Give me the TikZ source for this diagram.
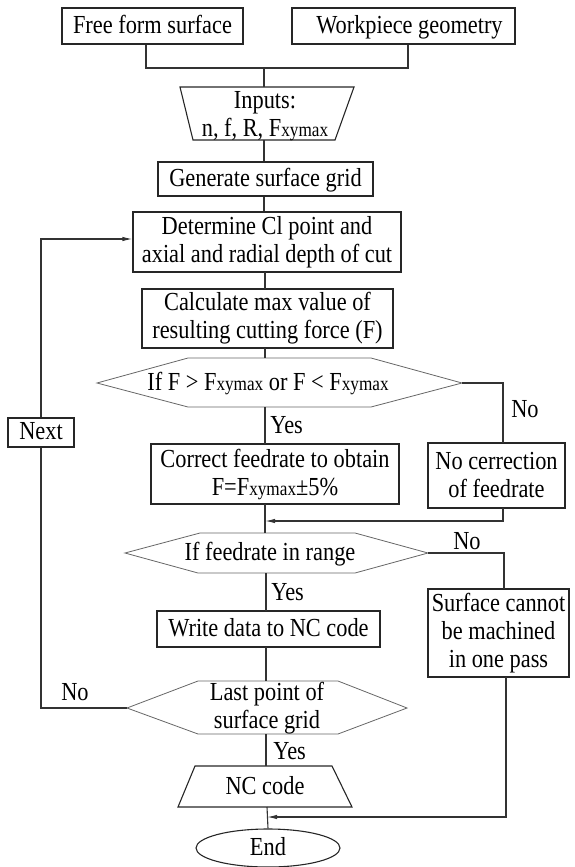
\documentclass[tikz,border=0pt]{standalone}
\usepackage{fontspec}
\setmainfont{Liberation Serif}[FakeStretch=0.86]
\usetikzlibrary{arrows.meta,shapes.geometric}

\tikzset{
  proc/.style={draw=black!85, line width=0.55pt, inner sep=0pt, align=center},
  dims/.style 2 args={minimum width=#1*0.5pt, minimum height=#2*0.5pt},
  one/.style={text height=9.6pt, text depth=2.4pt},
  txt/.style={inner sep=0pt, align=center},
  link/.style={draw=black!80, line width=0.55pt},
  arr/.style={link, -{Latex[length=5pt,width=2.2pt]}},
  hexa/.style={draw=black!60, line width=0.4pt},
  lbl/.style={inner sep=0pt},
}
\newcommand{\Fxy}{F{\fontsize{10}{11}\selectfont xymax}}

\begin{document}
\begin{tikzpicture}[x=0.5pt, y=-0.5pt, font=\fontsize{13}{14}\selectfont]
  \useasboundingbox (0,0) rectangle (574,867);

  % sources
  \node[proc, one, dims={181}{36}] (ffs) at (152.5,26) {Free form surface};
  \node[proc, one, dims={223}{36}] (wpg) at (403.5,26) {\hspace*{6pt}Workpiece geometry};
  \coordinate (jl) at (146,68);
  \coordinate (jr) at (408,68);
  \coordinate (jm) at (264,68);

  % inputs
  \draw[proc] (180,87) -- (354,87) -- (335,140) -- (193,140) -- cycle;
  \coordinate (inT) at (264,87);
  \coordinate (inB) at (264,140);
  \node[txt] (inp) at (265,116) {Inputs:\\n, f, R, \Fxy};

  % main column
  \node[proc, one, dims={215}{34}] (gen) at (265.5,179) {Generate surface grid};
  \node[proc, dims={268}{60}] (det) at (267,242) {Determine Cl point and\\axial and radial depth of cut};
  \node[proc, dims={251}{59}] (calc) at (267.5,318.5) {Calculate max value of\\resulting cutting force (F)};

  \draw[hexa] (97,383) -- (188,358) -- (371,358) -- (462,383) coordinate (h1R)
    -- (371,407) -- (188,407) -- cycle;
  \node[txt, one] (h1) at (268,383) {If F > \Fxy{} or F < \Fxy};

  \node[proc, dims={248}{60}] (corr) at (275,474) {Correct feedrate to obtain\\F=\Fxy±5\%};
  \node[proc, dims={137}{65}] (nocorr) at (496.5,475.5) {No cerrection\\of feedrate};
  \node[proc, one, dims={66}{29}, fill=white] (nxt) at (41,432.5) {Next};

  \draw[hexa] (125,553) -- (200,533) -- (355,533) -- (428,553) coordinate (h2R)
    -- (355,573) -- (198,573) -- cycle;
  \node[txt, one] (h2) at (270,553) {If feedrate in range};

  \node[proc, one, dims={223}{36}] (wr) at (268.5,629) {Write data to NC code};
  \node[proc, dims={141}{88}] (surf) at (498.5,633) {Surface cannot\\be machined\\in one pass};

  \draw[hexa] (127,708) coordinate (h3L) -- (198,681) -- (338,681) -- (407,708)
    -- (338,734) -- (198,734) -- cycle;
  \node[txt] (h3) at (267,708) {Last point of\\surface grid};

  \draw[proc] (195,766) -- (332,766) -- (352,807) -- (178,807) -- cycle;
  \node[txt, one] (nc) at (265,787) {NC code};
  \node[proc, one, ellipse, dims={144}{38}] (end) at (268,848) {End};

  % connectors
  \draw[link] (jl |- ffs.south) -- (jl) -- (jr) -- (jr |- wpg.south);
  \draw[link] (jm) -- (inT);
  \draw[link] (inB) -- (inB |- gen.north);
  \draw[link] (gen.south -| inB) -- (det.north -| inB);
  \draw[link] (265,272) -- (265,289);
  \draw[link] (265,348) -- (265,358);
  \draw[link] (265,407) -- (265,444);
  \node[lbl, anchor=west] (y1) at (270,425) {Yes};
  \draw[link] (h1R) -- (503,383) -- (503,443);
  \node[lbl] (n1) at (525,409) {No};
  \draw[link] (265,504) -- (265,533);
  \draw[arr] (503,508) -- (503,521) -- (265,521);

  \draw[link] (266,573) -- (266,611);
  \node[lbl, anchor=west] (y2) at (271,592) {Yes};
  \draw[link] (h2R) -- (504,553) -- (504,589);
  \node[lbl] (n2) at (467,541) {No};

  \draw[link] (266,647) -- (266,681);
  \draw[link] (266,734) -- (266,766);
  \node[lbl, anchor=west] (y3) at (273,751) {Yes};
  \draw[link] (h3L) -- (41,708) -- (nxt.south);
  \draw[arr] (nxt.north) -- (41,239) -- (det.west |- 0,239);
  \node[lbl] (n3) at (75,692) {No};

  \draw[link] (267,807) -- (end.north);
  \draw[arr] (506,677) -- (506,817) -- (267,817);
\end{tikzpicture}
\end{document}
